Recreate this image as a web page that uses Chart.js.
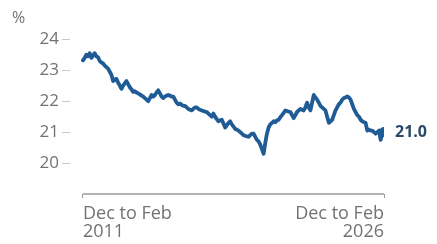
<!DOCTYPE html>
<html><head><meta charset="utf-8">
<script src="https://cdn.jsdelivr.net/npm/chart.js@4"></script>
<style>html,body{margin:0;padding:0;background:#fff}#c{display:block}</style>
</head><body>
<canvas id="c" width="437" height="244"></canvas>
<script>
const xTickLabels = [['Dec to Feb','2011'],['Dec to Feb','2026']];
const yTicks = [20,21,22,23,24];
const unitLabel = '%';
const values = [
23.32,23.40,23.50,23.45,23.55,23.40,23.48,23.55,23.45,23.42,
23.30,23.25,23.22,23.15,23.10,23.05,22.95,22.85,22.65,22.70,
22.72,22.60,22.50,22.40,22.50,22.58,22.65,22.55,22.45,22.38,
22.30,22.32,22.28,22.25,22.22,22.18,22.15,22.10,22.05,22.00,
22.10,22.20,22.15,22.20,22.28,22.35,22.25,22.15,22.10,22.15,
22.18,22.20,22.18,22.15,22.15,22.05,21.95,21.90,21.92,21.88,
21.85,21.85,21.80,21.75,21.72,21.70,21.75,21.80,21.80,21.75,
21.72,21.70,21.68,21.66,21.65,21.60,21.55,21.50,21.60,21.50,
21.42,21.35,21.38,21.40,21.28,21.15,21.22,21.30,21.35,21.25,
21.18,21.10,21.08,21.05,21.00,20.95,20.90,20.88,20.86,20.85,
20.90,20.95,20.95,20.85,20.75,20.70,20.60,20.45,20.30,20.65,
20.95,21.15,21.25,21.30,21.35,21.32,21.38,21.40,21.48,21.55,
21.62,21.70,21.68,21.66,21.65,21.55,21.45,21.55,21.65,21.70,
21.75,21.72,21.70,21.80,21.95,21.80,21.70,21.95,22.20,22.12,
22.05,21.95,21.85,21.80,21.75,21.70,21.50,21.30,21.35,21.40,
21.55,21.70,21.80,21.90,21.95,22.05,22.10,22.12,22.15,22.12,
22.05,21.90,21.75,21.65,21.55,21.50,21.40,21.35,21.32,21.30,
21.05,21.08,21.05,21.05,21.00,20.95,21.00,21.05,20.75,20.95,
21.00
];
const lastIdx = values.length - 1;
const lineColor = '#1f5b95';
const gray = '#727272';
const FONT = "'Open Sans', sans-serif";

const extras = {
  id: 'extras',
  afterDraw(chart) {
    const ctx = chart.ctx, x = chart.scales.x, ca = chart.chartArea;
    ctx.save();
    ctx.strokeStyle = '#9a9a9a';
    ctx.lineWidth = 1.5;
    ctx.beginPath();
    ctx.moveTo(x.getPixelForValue(0), ca.bottom);
    ctx.lineTo(x.getPixelForValue(lastIdx), ca.bottom);
    ctx.stroke();
    ctx.fillStyle = gray;
    ctx.font = "16px " + FONT;
    ctx.textAlign = 'left';
    ctx.textBaseline = 'middle';
    ctx.fillText(unitLabel, 12, 18);
    const meta = chart.getDatasetMeta(0);
    const p = meta.data[lastIdx];
    ctx.fillStyle = '#2a4868';
    ctx.font = "bold 16px " + FONT;
    ctx.fillText(values[lastIdx].toFixed(1), p.x + 11, p.y + 0.5);
    ctx.restore();
  }
};

new Chart(document.getElementById('c'), {
  type: 'line',
  data: {
    datasets: [{
      data: values.map((v, i) => ({x: i, y: v})),
      borderColor: lineColor,
      backgroundColor: lineColor,
      borderWidth: 3.8,
      tension: 0,
      pointRadius: ctx => ctx.dataIndex === lastIdx ? 5 : 0,
      pointHoverRadius: 0,
      pointBorderWidth: 0,
      borderJoinStyle: 'round',
      borderCapStyle: 'round'
    }]
  },
  options: {
    responsive: false,
    animation: false,
    events: [],
    layout: { padding: { top: 30, right: 53, bottom: 0, left: 0 } },
    plugins: { legend: { display: false }, tooltip: { enabled: false } },
    scales: {
      x: {
        type: 'linear',
        min: -7.77,
        max: lastIdx,
        afterBuildTicks: s => { s.ticks = [{value: 0}, {value: lastIdx}]; },
        afterFit: s => { s.height = 50; },
        border: { display: false },
        grid: { drawOnChartArea: false, tickLength: 4, color: '#9a9a9a', lineWidth: 1 },
        ticks: {
          align: 'inner',
          maxRotation: 0,
          autoSkip: false,
          padding: 7,
          color: gray,
          font: { family: FONT, size: 18, lineHeight: 1.0 },
          callback: (v) => v === 0 ? xTickLabels[0] : xTickLabels[1]
        }
      },
      y: {
        min: 19,
        max: 24.3,
        afterBuildTicks: s => { s.ticks = yTicks.map(v => ({value: v})); },
        afterFit: s => { s.width = 70; },
        border: { display: false },
        grid: { drawOnChartArea: false, tickLength: 8, color: '#c8c8c8', lineWidth: 1 },
        ticks: {
          padding: 3,
          color: gray,
          font: { family: FONT, size: 17 },
          callback: v => String(v)
        }
      }
    }
  },
  plugins: [extras]
});
</script>
</body></html>
